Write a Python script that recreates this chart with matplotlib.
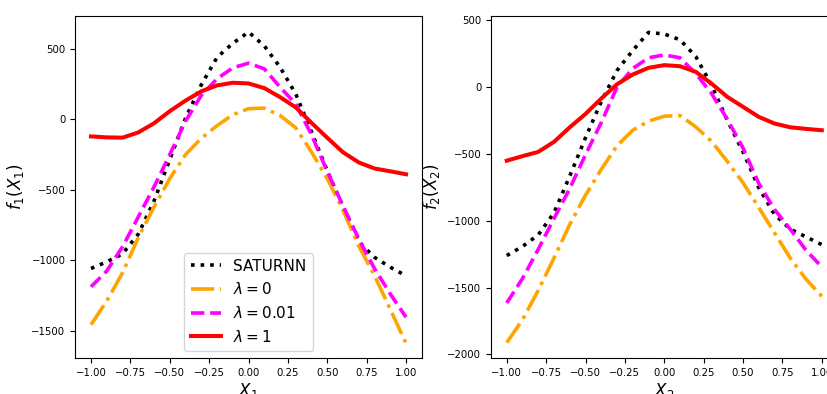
import matplotlib
matplotlib.use("Agg")
import matplotlib.pyplot as plt

# sample points along X
x = [-1.0, -0.9, -0.8, -0.7, -0.6, -0.5, -0.4, -0.3, -0.2, -0.1, 0.0,
     0.1, 0.2, 0.3, 0.4, 0.5, 0.6, 0.7, 0.8, 0.9, 1.0]

# f1(X1) estimates
saturnn_1 = [-1059, -1012, -955, -815, -580, -285, 8, 245, 440, 540, 620,
             522, 371, 180, -90, -365, -625, -870, -980, -1050, -1111]
lam0_1 = [-1458, -1290, -1090, -840, -622, -421, -250, -135, -45, 33, 76,
          80, 28, -60, -232, -421, -646, -900, -1110, -1350, -1590]
lam001_1 = [-1189, -1077, -905, -693, -480, -250, -13, 170, 288, 366, 399,
            359, 229, 110, -110, -370, -615, -850, -1060, -1240, -1405]
lam1_1 = [-121, -128, -130, -93, -28, 58, 133, 199, 241, 260, 255,
          222, 158, 85, -25, -131, -234, -306, -349, -369, -390]

# f2(X2) estimates
saturnn_2 = [-1260, -1192, -1105, -940, -665, -378, -108, 125, 275, 410, 398,
             355, 230, 15, -247, -484, -752, -952, -1062, -1120, -1178]
lam0_2 = [-1912, -1740, -1520, -1278, -1027, -808, -615, -438, -322, -254, -217,
          -212, -297, -405, -555, -715, -900, -1090, -1280, -1437, -1565]
lam001_2 = [-1615, -1432, -1213, -983, -758, -505, -265, 0, 140, 220, 242,
            220, 102, -47, -240, -455, -720, -915, -1063, -1220, -1345]
lam1_2 = [-550, -516, -484, -409, -300, -200, -85, 22, 95, 145, 165,
          157, 115, 27, -72, -147, -222, -272, -300, -312, -322]

labels = ["SATURNN", r"$\lambda = 0$", r"$\lambda = 0.01$", r"$\lambda = 1$"]

fig = plt.figure(figsize=(8.28, 3.94), dpi=100)
ax1 = fig.add_axes([0.0909, 0.0906, 0.4185, 0.8695])
ax2 = fig.add_axes([0.593, 0.0906, 0.4185, 0.8695])

panels = [
    (ax1, [saturnn_1, lam0_1, lam001_1, lam1_1], r"$X_1$", r"$f_1(X_1)$", (-1697, 736)),
    (ax2, [saturnn_2, lam0_2, lam001_2, lam1_2], r"$X_2$", r"$f_2(X_2)$", (-2029, 535)),
]

for ax, series, xl, yl, ylim in panels:
    ax.plot(x, series[0], ':', color='black', lw=2.6, label=labels[0])
    ax.plot(x, series[1], '-.', color='orange', lw=2.6, label=labels[1])
    ax.plot(x, series[2], '--', color='magenta', lw=2.6, label=labels[2])
    ax.plot(x, series[3], '-', color='red', lw=2.9, label=labels[3])
    ax.set_xlim(-1.1, 1.1)
    ax.set_ylim(*ylim)
    ax.set_xticks([-1.0, -0.75, -0.5, -0.25, 0.0, 0.25, 0.5, 0.75, 1.0])
    ax.tick_params(labelsize=7.3)
    ax.set_xlabel(xl, fontsize=12, labelpad=2)
    ax.set_ylabel(yl, fontsize=12)

ax1.legend(loc='lower center', fontsize=11)

fig.savefig("out.png", dpi=100)
